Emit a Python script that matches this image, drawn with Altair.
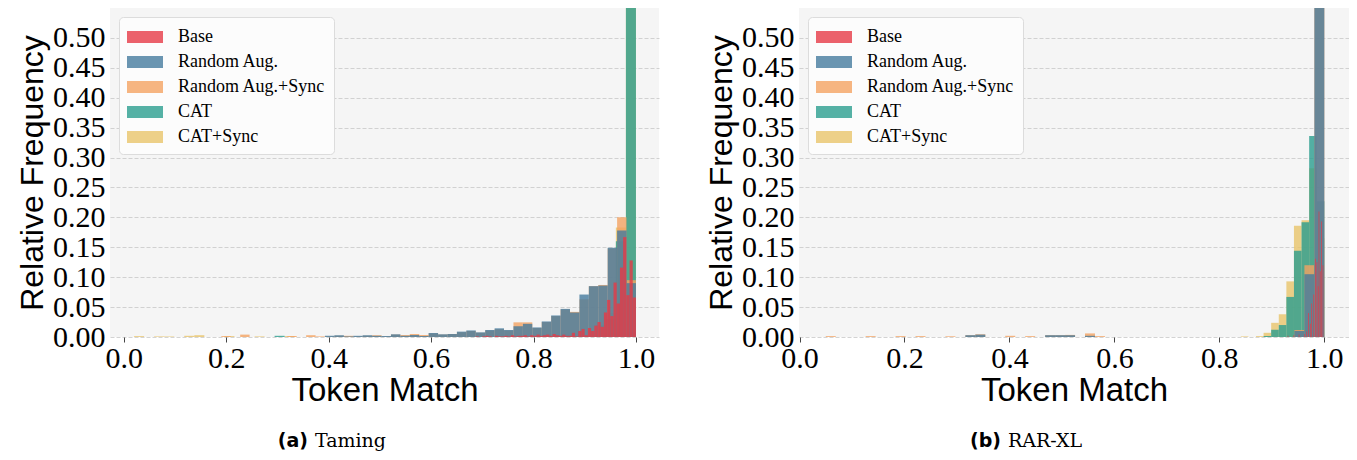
import altair as alt
import pandas as pd

SERIES = ["Base", "Random Aug.", "Random Aug.+Sync", "CAT", "CAT+Sync"]
COLORS = ["#e63946", "#457b9d", "#f4a261", "#2a9d8f", "#e9c46a"]
DRAW_ORDER = ["CAT+Sync", "CAT", "Random Aug.+Sync", "Random Aug.", "Base"]

Y_TICKS = [0.00, 0.05, 0.10, 0.15, 0.20, 0.25, 0.30, 0.35, 0.40, 0.45, 0.50]
X_TICKS = [0.0, 0.2, 0.4, 0.6, 0.8, 1.0]

# ---------------- (a) Taming : relative frequency per bin (bins ascending, last bin ends at 1.0)
taming_base_width = 0.00626
taming_base = [0.001, 0.000, 0.001, 0.002, 0.001, 0.000, 0.002, 0.001, 0.001, 0.002,
               0.001, 0.003, 0.001, 0.002, 0.002, 0.003, 0.001, 0.003, 0.002, 0.004,
               0.002, 0.003, 0.004, 0.002, 0.005, 0.003, 0.002, 0.004, 0.002, 0.002,
               0.007, 0.001, 0.010, 0.0135, 0.003, 0.015, 0.010, 0.019, 0.025, 0.017,
               0.041, 0.062, 0.035, 0.091, 0.056, 0.116, 0.167, 0.070, 0.128, 0.066]

taming_ra_width = 0.0184
taming_ra = [0.002, 0.003, 0.001, 0.002, 0.003, 0.002, 0.0017, 0.0045, 0.002, 0.0033,
             0.0017, 0.0067, 0.0045, 0.005, 0.009, 0.011, 0.0078, 0.0117, 0.0145, 0.0117,
             0.018, 0.022, 0.016, 0.026, 0.036, 0.047, 0.041, 0.071, 0.085, 0.086,
             0.149, 0.178, 0.090]

taming_ras_width = 0.0184
taming_ras = [0.0015, 0.0, 0.004, 0.0, 0.0, 0.0, 0.0, 0.0015, 0.0, 0.003, 0.001,
              0.001, 0.002, 0.002, 0.001, 0.002, 0.003, 0.001, 0.004, 0.0033, 0.005,
              0.0033, 0.006, 0.004, 0.005, 0.008, 0.010, 0.007, 0.011, 0.013, 0.011,
              0.0245, 0.0245, 0.015, 0.025, 0.035, 0.046, 0.042, 0.063, 0.085, 0.087,
              0.148, 0.200, 0.095]

taming_cat_width = 0.0196
taming_cat = [0, 0, 0, 0, 0, 0, 0, 0, 0, 0,
              0, 0, 0, 0, 0.002, 0, 0, 0, 0, 0,
              0, 0, 0, 0, 0, 0, 0, 0, 0, 0,
              0, 0, 0, 0, 0, 0, 0, 0, 0, 0,
              0, 0, 0, 0, 0, 0, 0, 0.03, 0.16, 0.78]

taming_cats_width = 0.0196
taming_cats = [0.0015, 0, 0.001, 0.001, 0, 0.002, 0.003, 0, 0, 0.0015,
               0, 0, 0.001, 0, 0, 0.0015, 0, 0, 0, 0,
               0, 0, 0, 0, 0, 0, 0, 0, 0, 0,
               0, 0, 0, 0, 0, 0, 0, 0, 0, 0,
               0, 0, 0, 0, 0, 0, 0.02, 0.04, 0.183, 0.74]

# ---------------- (b) RAR-XL
rar_base_width = 0.0016
rar_base_start = [0.930, 0.941, 0.951, 0.9615, 0.9655, 0.969, 0.9725, 0.975,
                  0.979, 0.9825, 0.985, 0.9875, 0.989, 0.9915, 0.994, 0.9965]
rar_base = [0.002, 0.003, 0.004, 0.005, 0.009, 0.040, 0.022, 0.056,
            0.071, 0.131, 0.125, 0.085, 0.210, 0.110, 0.193, 0.120]

rar_ra_width = 0.019
rar_ra = [0, 0, 0, 0, 0, 0, 0, 0, 0, 0,
          0, 0, 0, 0, 0.003, 0.004, 0, 0, 0, 0,
          0, 0, 0.003, 0.003, 0.003, 0, 0.002, 0, 0, 0,
          0, 0, 0, 0, 0, 0, 0, 0, 0, 0,
          0, 0, 0, 0, 0, 0, 0, 0.010, 0.105, 0.86]

rar_ras_width = 0.019
rar_ras = [0.0015, 0, 0, 0, 0.0015, 0, 0, 0.0015, 0, 0.0015,
           0, 0, 0.0012, 0, 0.003, 0.0045, 0, 0, 0.002, 0,
           0.0015, 0, 0.003, 0.003, 0.0035, 0, 0.006, 0.0015, 0, 0,
           0, 0, 0, 0, 0, 0, 0, 0, 0, 0,
           0, 0, 0, 0, 0, 0, 0, 0.0117, 0.12, 0.85]

rar_cat_width = 0.01447
rar_cat = [0, 0, 0, 0.0017, 0.0121, 0.020, 0.067, 0.144, 0.192, 0.336, 0.227]

rar_cats_width = 0.01447
rar_cats = [0.001, 0, 0.0015, 0.007, 0.0237, 0.038, 0.093, 0.186, 0.195, 0.282, 0.165]


def hist_rows(series, width, heights, end=1.0):
    n = len(heights)
    rows = []
    for i, h in enumerate(heights):
        if h > 0:
            x0 = end - (n - i) * width
            rows.append({"series": series, "x0": x0, "x1": x0 + width, "freq": h})
    return rows


def start_rows(series, width, starts, heights):
    return [{"series": series, "x0": s, "x1": s + width, "freq": h}
            for s, h in zip(starts, heights) if h > 0]


taming_parts = {
    "CAT+Sync": hist_rows("CAT+Sync", taming_cats_width, taming_cats),
    "CAT": hist_rows("CAT", taming_cat_width, taming_cat),
    "Random Aug.+Sync": hist_rows("Random Aug.+Sync", taming_ras_width, taming_ras),
    "Random Aug.": hist_rows("Random Aug.", taming_ra_width, taming_ra),
    "Base": hist_rows("Base", taming_base_width, taming_base),
}
rar_parts = {
    "CAT+Sync": hist_rows("CAT+Sync", rar_cats_width, rar_cats),
    "CAT": hist_rows("CAT", rar_cat_width, rar_cat),
    "Random Aug.+Sync": hist_rows("Random Aug.+Sync", rar_ras_width, rar_ras),
    "Random Aug.": hist_rows("Random Aug.", rar_ra_width, rar_ra),
    "Base": start_rows("Base", rar_base_width, rar_base_start, rar_base),
}

df_taming = pd.DataFrame([r for s in DRAW_ORDER for r in taming_parts[s]])
df_rar = pd.DataFrame([r for s in DRAW_ORDER for r in rar_parts[s]])

SERIF = "Liberation Serif"
SANS = "Liberation Sans"


def panel(df, xdomain, width, tag, name, tag_x, name_x):
    bars = alt.Chart(df).mark_rect(opacity=0.8, clip=True).encode(
        x=alt.X("x0:Q",
                scale=alt.Scale(domain=xdomain, nice=False, zero=False),
                axis=alt.Axis(values=X_TICKS, format=".1f", title="Token Match",
                              grid=False, domain=False, ticks=True, tickSize=5,
                              tickColor="#444444", tickWidth=1,
                              labelFont=SERIF, labelFontSize=30, labelColor="black",
                              labelPadding=1, labelFlush=False, labelOverlap=False,
                              titleFont=SANS, titleFontSize=33, titleFontWeight="normal",
                              titleColor="black", titlePadding=1)),
        x2="x1:Q",
        y=alt.Y("freq:Q",
                scale=alt.Scale(domain=[0, 0.55], nice=False),
                axis=alt.Axis(values=Y_TICKS, format=".2f", title="Relative Frequency",
                              grid=True, gridDash=[4, 2], gridColor="#c8c8c8", gridWidth=0.8,
                              domain=False, ticks=False,
                              labelFont=SERIF, labelFontSize=30, labelColor="black",
                              labelPadding=5, labelFlush=False, labelOverlap=False,
                              titleFont=SANS, titleFontSize=32, titleFontWeight="normal",
                              titleColor="black", titlePadding=3)),
        y2=alt.datum(0),
        color=alt.Color("series:N",
                        scale=alt.Scale(domain=SERIES, range=COLORS),
                        legend=alt.Legend(title=None, orient="top-left", offset=9,
                                          fillColor="#fcfcfc", strokeColor="#dcdcdc",
                                          cornerRadius=4, padding=8,
                                          labelFont=SERIF, labelFontSize=18,
                                          labelColor="black", labelOffset=27,
                                          symbolType="M-1,-0.5H2V0.5H-1Z",
                                          symbolSize=576, symbolStrokeWidth=0,
                                          symbolOpacity=0.8, rowPadding=4,
                                          labelLimit=400)),
    )
    cap_tag = alt.Chart(pd.DataFrame({"t": [tag]})).mark_text(
        align="right", baseline="alphabetic", font="DejaVu Sans", fontWeight="bold",
        fontSize=19, color="black"
    ).encode(text="t:N", x=alt.value(tag_x), y=alt.value(439))
    cap_name = alt.Chart(pd.DataFrame({"t": [name]})).mark_text(
        align="left", baseline="alphabetic", font="DejaVu Serif",
        fontSize=19, color="black"
    ).encode(text="t:N", x=alt.value(name_x), y=alt.value(439))
    return alt.layer(bars, cap_tag, cap_name).properties(width=width, height=329)


left = panel(df_taming, [-0.027, 1.045], 549, "(a)", "Taming", 198, 205)
right = panel(df_rar, [-0.001, 1.047], 550, "(b)", "RAR-XL", 202, 209)

chart = alt.hconcat(left, right, spacing=46).resolve_legend(color="independent").properties(
    padding={"left": 8, "top": 0, "right": 0, "bottom": 0}
).configure_view(fill="#f5f5f5", strokeWidth=0)

chart.save("out.html", embed_options={"renderer": "svg", "actions": False})
